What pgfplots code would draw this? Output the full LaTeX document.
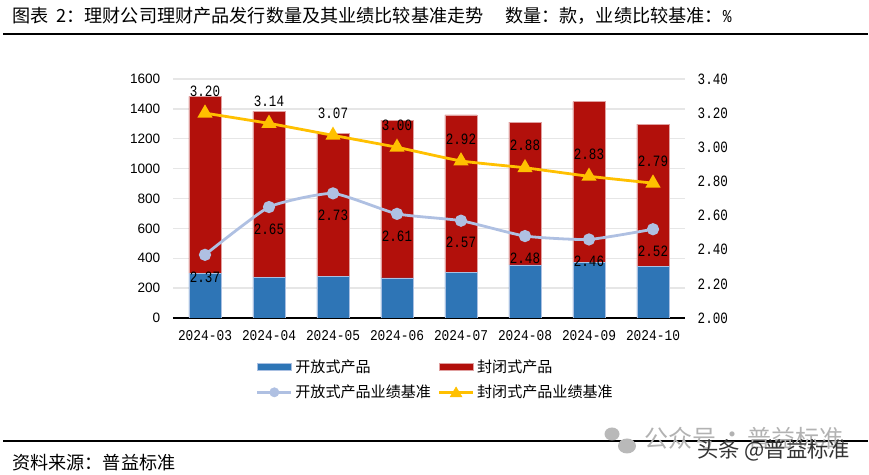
\documentclass[border=0pt]{standalone}
\usepackage{fontspec}
\setmainfont{Liberation Sans}
\newfontfamily\cjk{Noto Sans CJK SC}
\newfontfamily\mono[FakeStretch=0.8]{Liberation Mono}
\newfontfamily\monox[FakeStretch=0.86]{Liberation Mono}
\usepackage{pgfplots}
\pgfplotsset{compat=1.18}
\usepackage{pgfplotstable}
\definecolor{openbar}{HTML}{2E75B6}
\definecolor{closedbar}{HTML}{B2100B}
\definecolor{openline}{HTML}{AFC0E2}
\definecolor{closedline}{HTML}{FFC000}
\definecolor{openedge}{HTML}{A9C0E2}
\definecolor{closededge}{HTML}{E0A0A0}
\definecolor{gridc}{HTML}{E6E6E6}
\pgfplotstableread{
x open closed openrate closedrate
0 301 1183 2.37 3.20
1 274 1109 2.65 3.14
2 279 957 2.73 3.07
3 268 1057 2.61 3.00
4 306 1053 2.57 2.92
5 355 957 2.48 2.88
6 370 1078 2.46 2.83
7 344 954 2.52 2.79
}\datatable
\begin{document}
\begin{tikzpicture}[x=0.75pt,y=0.75pt]
\path[use as bounding box] (0,0) rectangle (869,475);
% rules and captions
\draw[black,line width=0.8pt] (3,441) -- (868,441);
\draw[black,line width=0.8pt] (3,34) -- (868,34);
\node[anchor=west,inner sep=0pt,font=\cjk\fontsize{13.6}{16}\selectfont] at (12,459) {图表\hspace{6pt}2：理财公司理财产品发行数量及其业绩比较基准走势};
\node[anchor=west,inner sep=0pt,font=\cjk\fontsize{13.6}{16}\selectfont] at (505,459) {数量：款，业绩比较基准：{\mono\%}};
\node[anchor=west,inner sep=0pt,font=\cjk\fontsize{13.6}{16}\selectfont] at (12,12) {资料来源：普益标准};

% bars, left axis
\begin{axis}[
    at={(129.75pt,117.75pt)},anchor=south west,
    scale only axis,width=384pt,height=179.25pt,
    ybar stacked,bar width=24pt,
    xmin=-0.5,xmax=7.5,ymin=0,ymax=1600,
    xtick=data,
    xticklabels={2024-03,2024-04,2024-05,2024-06,2024-07,2024-08,2024-09,2024-10},
    ytick={0,200,...,1600},
    axis x line=bottom,axis y line=left,
    x axis line style={-,black,line width=0.8pt},
    y axis line style={draw=none},
    major tick length=0pt,
    ymajorgrids,grid style={gridc,line width=1.1pt},
    /pgf/number format/assume math mode=true,
    /pgf/number format/1000 sep={},
    yticklabel style={font=\fontsize{10.2}{12}\selectfont,xshift=-6pt},
    xticklabel style={font=\monox\fontsize{11.2}{12}\selectfont,yshift=-6pt},
    legend columns=2,
    legend cell align=left,
    legend style={draw=none,fill=none,
      at={(axis description cs:0.162,-0.163)},anchor=north west,
      inner sep=0pt,outer sep=0pt,
      font=\cjk\fontsize{11.3}{14}\selectfont,
      /tikz/every even column/.append style={column sep=3pt},
      row sep=4pt},
  ]
  \addplot[fill=openbar,draw=openedge,line width=0.5pt,forget plot] table[x=x,y=open] {\datatable};
  \addplot[fill=closedbar,draw=closededge,line width=0.5pt,forget plot] table[x=x,y=closed] {\datatable};
  \addlegendimage{legend image code/.code={\draw[fill=openbar,draw=openedge,line width=0.5pt] (0,-2.7pt) rectangle (25.5pt,2.7pt);}}
  \addlegendentry{开放式产品}
  \addlegendimage{legend image code/.code={\draw[fill=closedbar,draw=closededge,line width=0.5pt] (0,-2.7pt) rectangle (25.5pt,2.7pt);}}
  \addlegendentry{封闭式产品}
  \addlegendimage{legend image code/.code={\draw[openline,line width=2.1pt] (0,0) -- (25.5pt,0);\fill[openline] (12.75pt,0) circle (3.5pt);}}
  \addlegendentry{开放式产品业绩基准}
  \addlegendimage{legend image code/.code={\draw[closedline,line width=2.1pt] (0,0) -- (25.5pt,0);\fill[closedline] (12.75pt,4pt) -- (8.25pt,-3.5pt) -- (17.25pt,-3.5pt) -- cycle;}}
  \addlegendentry{封闭式产品业绩基准}
\end{axis}

% rates, right axis
\begin{axis}[
    at={(129.75pt,117.75pt)},anchor=south west,
    scale only axis,width=384pt,height=179.25pt,
    xmin=-0.5,xmax=7.5,ymin=2,ymax=3.4,
    ytick={2,2.2,...,3.41},
    axis y line*=right,axis x line=none,
    y axis line style={draw=none},
    major tick length=0pt,
    clip=false,
    /pgf/number format/assume math mode=true,
    /pgf/number format/fixed,/pgf/number format/fixed zerofill,/pgf/number format/precision=2,
    yticklabel style={font=\mono\fontsize{11.8}{12}\selectfont,xshift=6pt},
    nodes near coords,
    point meta=y,
    every node near coord/.append style={font=\mono\fontsize{11.8}{12}\selectfont,text=black,anchor=center},
  ]
  \addplot[openline,line width=2.1pt,smooth,tension=0.3,mark=*,mark size=3.5pt,
      mark options={fill=openline,draw=openline},
      every node near coord/.append style={yshift=-16.5pt}]
    table[x=x,y=openrate] {\datatable};
  \addplot[closedline,line width=2.1pt,smooth,tension=0.3,mark=triangle*,mark size=4.5pt,
      mark options={fill=closedline,draw=closedline},
      every node near coord/.append style={yshift=16.5pt}]
    table[x=x,y=closedrate] {\datatable};
\end{axis}

% watermark
\fill[gray!55] (612,41) ellipse (7.5 and 6.5);
\fill[gray!55] (627,29) ellipse (9 and 7.5);
\node[anchor=west,inner sep=0pt,text=gray!60,font=\cjk\fontsize{18}{20}\selectfont] at (644,37) {公众号};
\node[inner sep=0pt,text=gray!60,font=\cjk\fontsize{18}{20}\selectfont] at (732,37) {·};
\node[anchor=west,inner sep=0pt,text=gray!60,font=\cjk\fontsize{18}{20}\selectfont] at (747,37) {普益标准};
\node[anchor=west,inner sep=0pt,text=black!80,font=\cjk\fontsize{16}{18}\selectfont] at (697,25) {头条 @普益标准};
\end{tikzpicture}
\end{document}
